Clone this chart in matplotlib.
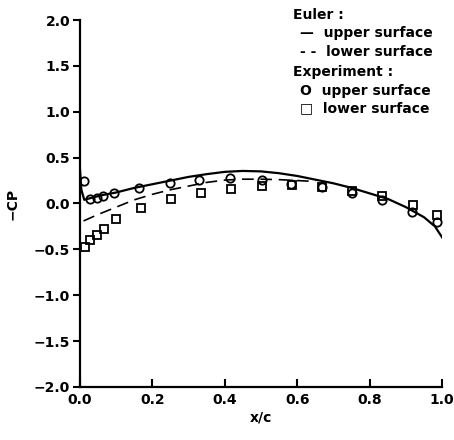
import numpy as np
import matplotlib
matplotlib.use('Agg')
import matplotlib.pyplot as plt

# Euler solution, upper surface (solid)
euler_up_x = [0.0, 0.004, 0.012, 0.03, 0.06, 0.1, 0.15, 0.2, 0.25, 0.3, 0.35, 0.4,
              0.45, 0.5, 0.55, 0.6, 0.65, 0.7, 0.75, 0.8, 0.85, 0.9, 0.95, 0.98, 1.0]
euler_up_y = [0.38, 0.15, 0.04, 0.06, 0.09, 0.12, 0.17, 0.21, 0.25, 0.29, 0.32, 0.345,
              0.355, 0.35, 0.33, 0.30, 0.26, 0.22, 0.17, 0.11, 0.05, -0.04, -0.15, -0.25, -0.37]

# Euler solution, lower surface (dashed)
euler_lo_x = [0.01, 0.05, 0.1, 0.15, 0.2, 0.25, 0.3, 0.35, 0.4, 0.45, 0.5, 0.55, 0.6, 0.65]
euler_lo_y = [-0.19, -0.12, -0.04, 0.04, 0.10, 0.15, 0.19, 0.23, 0.255, 0.265, 0.265, 0.26, 0.25, 0.24]

# experiment
exp_up_x = [0.012, 0.028, 0.046, 0.064, 0.095, 0.163, 0.249, 0.33, 0.414, 0.502,
            0.583, 0.668, 0.75, 0.833, 0.916, 0.985]
exp_up_y = [0.25, 0.05, 0.065, 0.085, 0.11, 0.166, 0.227, 0.256, 0.275, 0.256,
            0.209, 0.176, 0.118, 0.038, -0.089, -0.198]
exp_lo_x = [0.014, 0.028, 0.046, 0.066, 0.099, 0.168, 0.251, 0.334, 0.417, 0.502,
            0.585, 0.668, 0.75, 0.833, 0.919, 0.987]
exp_lo_y = [-0.47, -0.40, -0.34, -0.28, -0.17, -0.045, 0.049, 0.11, 0.155, 0.19,
            0.20, 0.18, 0.14, 0.085, -0.016, -0.125]

xticks = [0.0, 0.2, 0.4, 0.6, 0.8, 1.0]
yticks = [-2.0, -1.5, -1.0, -0.5, 0.0, 0.5, 1.0, 1.5, 2.0]

fig = plt.figure(figsize=(4.54, 4.40), dpi=100)
ax = fig.add_axes([0.176, 0.1205, 0.798, 0.834])

ax.plot(euler_up_x, euler_up_y, '-', color='black', lw=1.6)
ax.plot(euler_lo_x, euler_lo_y, '--', color='black', lw=1.2, dashes=(7, 4))
ax.plot(exp_up_x, exp_up_y, 'o', mfc='none', mec='black', ms=6, mew=1.3)
ax.plot(exp_lo_x, exp_lo_y, 's', mfc='none', mec='black', ms=5.5, mew=1.3)

ax.set_xlim(0, 1.0)
ax.set_ylim(-2.0, 2.0)
ax.set_xticks(xticks)
ax.set_yticks(yticks)
ax.set_xticklabels(['%.1f' % v for v in xticks], fontweight='bold')
ax.set_yticklabels(['%.1f' % v if v >= 0 else '\u2212%.1f' % -v for v in yticks], fontweight='bold')
ax.tick_params(axis='x', direction='in', length=6, width=1.5, labelsize=10, pad=4)
ax.tick_params(axis='y', direction='out', length=5, width=1.5, labelsize=10, pad=2)

for s in ['top', 'right']:
    ax.spines[s].set_visible(False)
for s in ['left', 'bottom']:
    ax.spines[s].set_linewidth(1.6)

ax.set_xlabel('x/c', fontsize=10, fontweight='bold', labelpad=3)
ax.set_ylabel('\u2212CP', fontsize=10, fontweight='bold', labelpad=10)

# legend as text block
lines = [('Euler :', 293), ('\u2014  upper surface', 300), ('- -  lower surface', 300),
         ('Experiment :', 293), ('O  upper surface', 300), ('\u25a1  lower surface', 300)]
ys = [15, 33, 52, 72, 91, 108]
for (txt, px), py in zip(lines, ys):
    fig.text(px / 454, 1 - py / 440, txt, fontsize=10, fontweight='bold',
             ha='left', va='center')

fig.savefig('out.png', dpi=100)
